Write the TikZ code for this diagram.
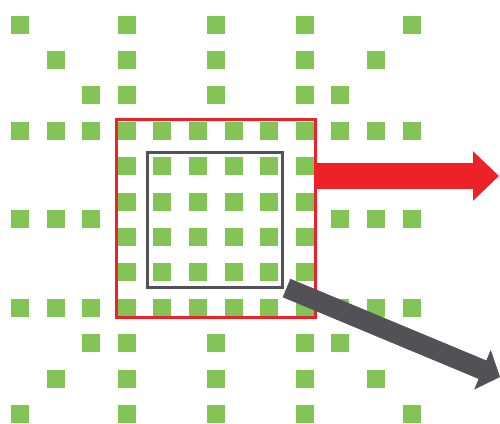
\documentclass[tikz,border=0pt]{standalone}
\usetikzlibrary{arrows.meta}
\definecolor{sqgreen}{RGB}{130,196,86}
\definecolor{boxred}{RGB}{236,34,38}
\definecolor{darkgr}{RGB}{82,82,86}
\tikzset{
  sq/.style={fill=sqgreen, draw=none, minimum size=18pt, inner sep=0pt, outer sep=0pt},
  frame/.style={draw, line width=3pt, inner sep=0pt, fill=none},
  bigarrow/.style={line width=#1, line cap=butt}
}
\newcommand{\sqrow}[2]{%
  \foreach \i in {#2} {\node[sq] (s-\i-#1) at ({20+35.6*\i},{24.5+35.4*#1}) {};}%
}
\begin{document}
\begin{tikzpicture}[x=1pt,y=-1pt]
\useasboundingbox (0,0) rectangle (500,423);
% green squares
\sqrow{0}{0,3,5.5,8,11}
\sqrow{1}{1,3,5.5,8,10}
\sqrow{2}{2,3,5.5,8,9}
\sqrow{3}{0,1,2,3,4,5,6,7,8,9,10,11}
\sqrow{4}{3,4,5,6,7,8}
\sqrow{5}{3,4,5,6,7,8}
\sqrow{5.5}{0,1,2,9,10,11}
\sqrow{6}{3,4,5,6,7,8}
\sqrow{7}{3,4,5,6,7,8}
\sqrow{8}{0,1,2,3,4,5,6,7,8,9,10,11}
\sqrow{9}{2,3,5.5,8,9}
\sqrow{10}{1,3,5.5,8,10}
\sqrow{11}{0,3,5.5,8,11}
% frames
\node[frame, draw=boxred, minimum width=198.5pt, minimum height=198pt] (redbox) at (215.75,218.5) {};
\node[frame, draw=darkgr, minimum width=135pt, minimum height=135pt] (graybox) at (215,220) {};
% arrows
\coordinate (rstart) at (redbox.east |- 0,176);
\coordinate (rtip) at (499,176);
\draw[bigarrow=26pt, boxred, -{Triangle[length=26pt,width=48pt]}] (rstart) -- (rtip);
\coordinate (gstart) at ([shift={(2.5,-1)}]graybox.south east);
\coordinate (gtip) at (500,377);
\draw[bigarrow=20pt, darkgr, -{Triangle[length=19pt,width=42pt]}] (gstart) -- (gtip);
\end{tikzpicture}
\end{document}
